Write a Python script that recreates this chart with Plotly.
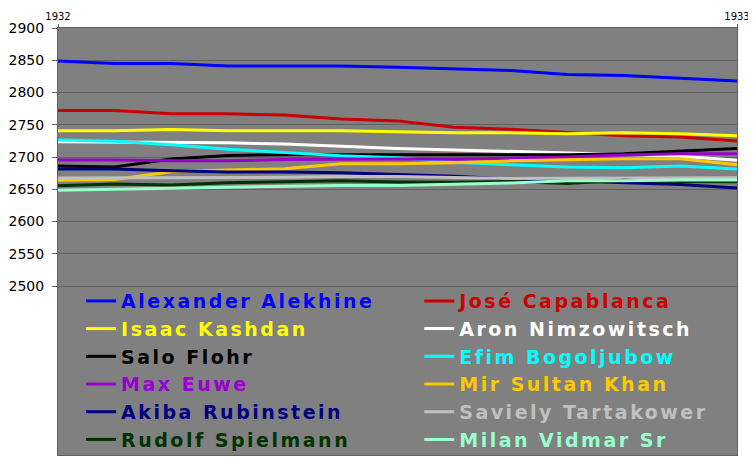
import plotly.graph_objects as go

# x positions: monthly from 1932 to 1933
months = [1932 + k / 12 for k in range(13)]

names = ["Alexander Alekhine", "José Capablanca", "Isaac Kashdan", "Aron Nimzowitsch",
         "Salo Flohr", "Efim Bogoljubow", "Max Euwe", "Mir Sultan Khan",
         "Akiba Rubinstein", "Saviely Tartakower", "Rudolf Spielmann", "Milan Vidmar Sr"]

colors = ["#0000FF", "#CC0000", "#FFFF00", "#FFFFFF",
          "#000000", "#00FFFF", "#9900CC", "#FFC800",
          "#000080", "#C0C0C0", "#003300", "#99FFCC"]

alekhine    = [2849, 2845, 2845, 2841, 2841, 2841, 2839, 2836, 2834, 2828, 2826.5, 2822, 2818]
capablanca  = [2772, 2772, 2767, 2767, 2765, 2759, 2756, 2746, 2743, 2738.5, 2733, 2731, 2725]
kashdan     = [2740.6, 2740.6, 2742.7, 2740.6, 2740.6, 2740.6, 2739, 2737.5, 2737.5, 2736, 2737.5, 2736, 2733]
nimzowitsch = [2723.5, 2723, 2723, 2722, 2720, 2716, 2713, 2711, 2709, 2706.5, 2704, 2701, 2695]
flohr       = [2686, 2684.6, 2697, 2702.5, 2703.5, 2703.5, 2703.5, 2704, 2704.6, 2703.5, 2705, 2708.5, 2713]
bogoljubow  = [2726.5, 2724.5, 2719, 2712, 2707, 2702, 2699, 2692, 2688, 2684.5, 2683.5, 2686, 2681.5]
euwe        = [2695.5, 2695.5, 2694, 2694, 2696, 2697, 2697, 2696.5, 2698, 2700, 2703, 2705, 2705]
khan        = [2664, 2665, 2677, 2680, 2681.7, 2689.5, 2689.5, 2691, 2694, 2696, 2697.3, 2697.3, 2688]
rubinstein  = [2681.4, 2681.4, 2678.5, 2676.7, 2676.7, 2675.5, 2673, 2670.3, 2666, 2663, 2661, 2657.5, 2652]
tartakower  = [2667.4, 2667.4, 2667.4, 2668.5, 2668.5, 2669.7, 2669.7, 2668.2, 2666.5, 2667, 2667, 2667.5, 2668]
spielmann   = [2655.5, 2658.3, 2656.7, 2660, 2661.5, 2663, 2661.4, 2661, 2662, 2659, 2664, 2662, 2661.5]
vidmar      = [2648.6, 2650.2, 2651.7, 2653.3, 2654.5, 2656, 2656, 2657.8, 2659.6, 2663.2, 2663, 2664.5, 2664.5]

series = [alekhine, capablanca, kashdan, nimzowitsch, flohr, bogoljubow,
          euwe, khan, rubinstein, tartakower, spielmann, vidmar]

ytick_vals = [2500, 2550, 2600, 2650, 2700, 2750, 2800, 2850, 2900]
xtick_vals = [1932, 1933]
xtick_text = ["1932", "1933"]

fig = go.Figure()
for i, (name, col, vals) in enumerate(zip(names, colors, series)):
    fig.add_trace(go.Scatter(
        x=months, y=vals, mode="lines",
        line=dict(color=col, width=3),
        name=f"<b><span style='color:{col};letter-spacing:2.5px'>{name}</span></b>",
        legend="legend" if i % 2 == 0 else "legend2",
    ))

legend_common = dict(
    orientation="v",
    yanchor="top", xanchor="left",
    bgcolor="rgba(0,0,0,0)",
    font=dict(family="DejaVu Sans", size=19),
    itemwidth=30,
)

fig.update_layout(
    width=756, height=464,
    margin=dict(l=50, r=27, t=20, b=17, autoexpand=False),
    paper_bgcolor="white",
    plot_bgcolor="#808080",
    font=dict(family="DejaVu Sans", color="black"),
    showlegend=True,
    legend=dict(x=0.034, y=0.405, **legend_common),
    legend2=dict(x=0.532, y=0.405, **legend_common),
)

fig.update_xaxes(
    range=[1932, 1933], side="top",
    tickvals=xtick_vals, ticktext=xtick_text,
    tickfont=dict(size=10, color="black"),
    ticks="outside", ticklen=3, tickcolor="#606060",
    showgrid=False, zeroline=False,
    showline=True, linecolor="#606060", linewidth=1, mirror=True,
)
fig.update_yaxes(
    range=[2238, 2900],
    tickvals=ytick_vals,
    tickfont=dict(size=14, color="black"),
    ticks="outside", ticklen=5, tickcolor="#606060",
    ticklabelstandoff=5,
    showgrid=True, gridcolor="#606060", gridwidth=1,
    zeroline=False,
    showline=True, linecolor="#606060", linewidth=1, mirror=True,
)

fig.write_html("out.html")
